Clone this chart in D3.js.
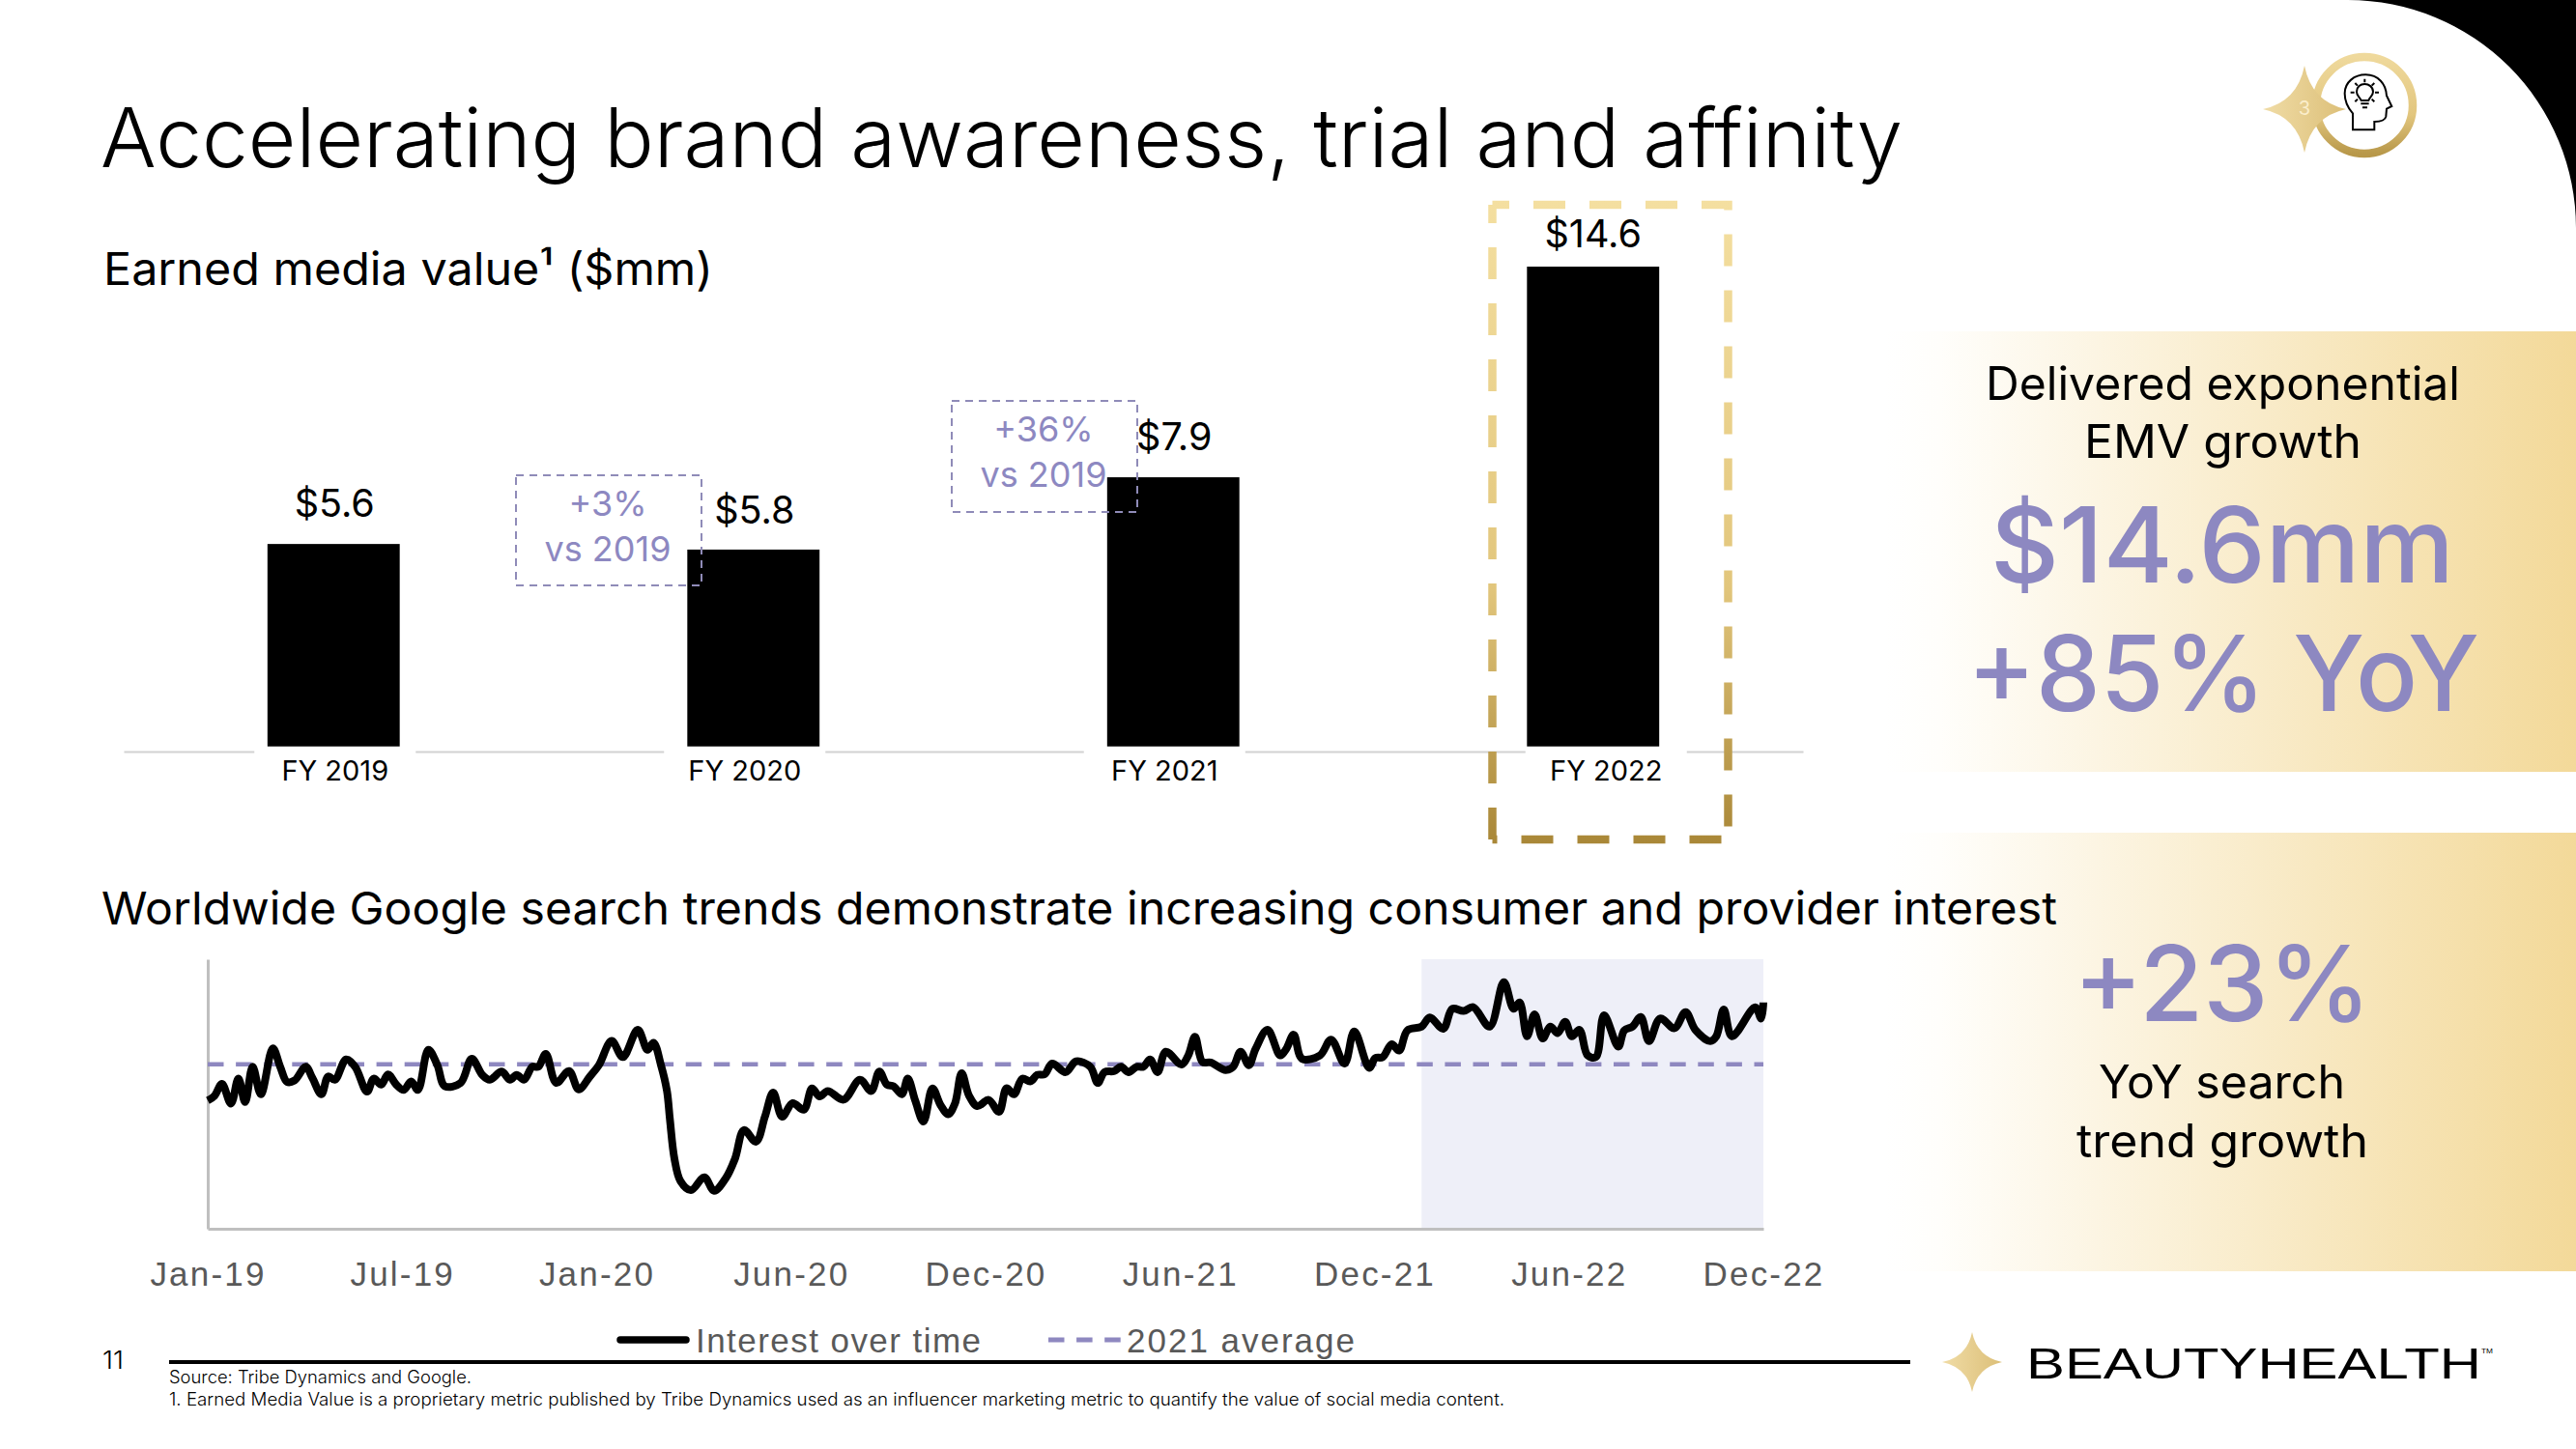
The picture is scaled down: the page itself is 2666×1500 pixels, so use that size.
<!DOCTYPE html>
<html><head><meta charset="utf-8">
<script src="https://cdn.jsdelivr.net/npm/d3@7"></script>
<style>html,body{margin:0;padding:0;background:#fff}svg{display:block}</style>
</head><body>
<svg id="c" width="2666" height="1500"></svg>
<script>
// ---- data ----
const barCategories = ["FY 2019","FY 2020","FY 2021","FY 2022"];
const barValues = [5.6,5.8,7.9,14.6];
const barDrawnHeights = [6.16,5.99,8.19,14.6]; // as drawn in the slide, in units of the FY 2022 scale
const barLabels = ["$5.6","$5.8","$7.9","$14.6"];
const trendTickWeeks = [0,26,52,78,104,130,156,182,208];
const trendTickLabels = ["Jan-19","Jul-19","Jan-20","Jun-20","Dec-20","Jun-21","Dec-21","Jun-22","Dec-22"];
const trendWeeks = [0,0.9,1.9,3.1,4.1,5,6,7.1,8.7,9.7,10.6,11.6,13.1,14,15.2,16.1,17,18.5,19.7,21.3,22.2,23.2,24.1,25.2,26.2,27.2,28.1,29.5,30.7,31.7,33.8,35.3,36.7,37.7,39.3,40.4,41.3,42.3,43.4,44.2,45.2,46.6,48.3,49.6,51.1,52.3,54,55.5,57.5,58.8,59.6,60.6,61.4,61.8,62.4,63.2,64.6,66.4,67.7,69.3,70.5,71.7,73.3,74.5,75.6,76.8,78.2,79.7,80.8,81.8,82.9,85,87.2,88.7,89.8,90.8,91.7,92.8,93.6,94.6,95.7,96.9,98,99,99.9,100.8,101.8,102.9,104.4,105.8,106.8,107.8,108.9,110,110.9,111.9,112.9,114.7,116.1,118,119,119.9,121.2,122.1,123.1,124.2,125.1,126,127,128.1,130.2,131.1,132,133,134.1,136.1,137.1,138.1,139.2,140.1,141.7,143.4,144.2,145.2,146.3,148.7,150.2,152,153.3,155.3,156.1,157.1,158.3,159.3,160.4,162.3,163.4,165.2,166.4,167.9,169.2,171.4,173.3,174.6,175.4,176.4,177.4,178.5,179.5,180.5,181.5,182.4,183.4,184.5,185.6,186.7,188.6,189.4,190.5,191.6,192.7,194.2,196.1,197.6,198.9,200.9,201.7,202.7,203.8,206.9,207.7,208];
const trendValues = [47.6,49.3,53.8,46.4,55.7,47,60.1,49.9,66.9,60,54.5,55,60.1,55.9,49.9,56.5,55.3,62.8,60.1,50.9,55.7,53.5,57.3,53.5,51.5,54.7,51.5,66.4,60.7,52.9,54.1,63.1,57.1,55.3,58.3,55.3,57.1,55.3,60.1,60.1,64.9,54.1,58.5,51.7,56.5,60.7,69.7,63.7,73.8,66.4,69,60.7,51.1,40.4,26,17.7,14.3,19.1,14.1,18.9,26,36.6,32.3,41.6,50.5,41.6,46.6,44.2,52.1,49.1,51.1,47.9,55.3,51.1,58.3,53.5,52.9,49.9,55.7,47.5,39.8,52.1,45.8,42.5,46.4,57.7,49.3,45.5,47.8,43.4,52.1,49.9,55.7,54.7,57.1,57.3,61.3,58.1,62.1,60.1,54.1,58.1,58.5,60.1,58.1,60.1,60.1,62.8,58.1,65.7,60.9,64.3,71.2,61.9,61.7,58.9,60.1,65.7,60.7,66.7,73.8,64.3,66.7,72,63.1,64.3,70.2,61.3,73.2,59.7,63.3,63.7,68.5,66.1,73.6,75,78.4,74.2,81.6,80.8,82.2,75,91.5,81.6,84,71.4,79.6,70.6,75,72.6,76.8,71.4,73.8,64.3,63.7,79.2,67.6,73.6,75,78.6,69.6,78,74.4,80.4,73.8,69.6,71.4,81.4,71.4,82.2,78,84];
const average2021 = 61;
const highlightStartWeek = 162.3;

const svg = d3.select("#c");
const SANS = "Inter, sans-serif", ARIAL = "'Liberation Sans', Arial, sans-serif";
const PURPLE = "#8d88c1";
const defs = svg.append("defs");

function grad(id, dir, stops){
  const g = defs.append("linearGradient").attr("id",id)
    .attr("x1",0).attr("y1",0).attr("x2",dir==="h"?1:0).attr("y2",dir==="h"?0:1);
  if(dir==="u"){g.attr("gradientUnits","userSpaceOnUse").attr("x1",0).attr("y1",208).attr("x2",0).attr("y2",873);}
  stops.forEach(s=>g.append("stop").attr("offset",s[0]).attr("stop-color",s[1]));
}
grad("panel","h",[[0,"#ffffff"],[0.08,"#fffefb"],[1,"#f3d999"]]);
grad("goldV","u",[[0,"#f4dfa0"],[0.6,"#e2c67c"],[1,"#a98737"]]);
grad("ring","v",[[0,"#efd99c"],[0.6,"#e2c67e"],[1,"#b8984a"]]);
grad("star","h",[[0,"#f0dca6"],[1,"#dcbf78"]]);

function fit(t,x0,x1,base,size,color,family,weight){
  return svg.append("text").attr("x",x0).attr("y",base)
    .attr("textLength",x1-x0).attr("lengthAdjust","spacingAndGlyphs")
    .style("font-family",family||SANS).style("font-size",size+"px")
    .style("font-weight",weight||400).attr("fill",color||"#000").text(t);
}
function starPath(cx,cy,rx,ry){
  const kx=rx*.17, ky=ry*.17;
  return `M${cx},${cy-ry}Q${cx+kx},${cy-ky} ${cx+rx},${cy}Q${cx+kx},${cy+ky} ${cx},${cy+ry}Q${cx-kx},${cy+ky} ${cx-rx},${cy}Q${cx-kx},${cy-ky} ${cx},${cy-ry}Z`;
}

// corner
svg.append("path").attr("d","M2430,0 A236,236 0 0 1 2666,236 L2666,0 Z").attr("fill","#000");

// gold panels
svg.append("rect").attr("x",1950).attr("y",343).attr("width",716).attr("height",456).attr("fill","url(#panel)");
svg.append("rect").attr("x",1950).attr("y",862).attr("width",716).attr("height",454).attr("fill","url(#panel)");

// title
fit("Accelerating brand awareness, trial and affinity",104,1969,173,85,"#000",SANS,300);
fit("Earned media value\u00B9 ($mm)",107,738,295,47);
fit("Worldwide Google search trends demonstrate increasing consumer and provider interest",105,2129,957,47);

// ---- bars ----
const x = d3.scaleBand().domain(barCategories).range([128,1866]).paddingInner(.685).paddingOuter(.3425);
const y = d3.scaleLinear().domain([0,14.6]).range([772.7,276]);
const axisY = 778;
const labelShift = [1.5,-9,-9,13.5];
const valueLift = [28,27,28,20];

svg.append("g").attr("transform",`translate(0,${axisY})`)
  .call(d3.axisBottom(x).tickValues([]).tickSize(0).tickSizeOuter(0))
  .select(".domain").attr("stroke","#d2d2d2").attr("stroke-width",2);
svg.append("g").selectAll("rect").data(barCategories).join("rect")
  .attr("x",(d,i)=>x(d)+x.bandwidth()/2+labelShift[i]-83.5).attr("y",axisY-4).attr("width",167).attr("height",8).attr("fill","#fff");

const gx = svg.append("g").attr("transform",`translate(0,${axisY})`)
  .call(d3.axisBottom(x).tickSize(0).tickPadding(0));
gx.select(".domain").remove();
gx.selectAll(".tick text").attr("dx",(d,i)=>labelShift[i]).attr("dy",0).attr("y",30)
  .style("font-family",SANS).style("font-size","29px").attr("fill","#000").attr("text-anchor","middle");

svg.append("g").selectAll("rect").data(barCategories).join("rect")
  .attr("x",d=>x(d)).attr("width",x.bandwidth())
  .attr("y",(d,i)=>y(barDrawnHeights[i])).attr("height",(d,i)=>y(0)-y(barDrawnHeights[i]))
  .attr("fill","#000");

svg.append("g").selectAll("text").data(barLabels).join("text")
  .attr("x",(d,i)=>x(barCategories[i])+x.bandwidth()/2+(i===3?0:1))
  .attr("y",(d,i)=>y(barDrawnHeights[i])-valueLift[i])
  .attr("text-anchor","middle").style("font-family",SANS).style("font-size","39.5px").attr("fill","#000").text(d=>d);

// gold dashed frame: top+right, bottom, left
[["M1544.5,212H1788.5V869",15.5],["M1788.5,869H1544.5",51],["M1544.5,869V212",0]].forEach(p=>{
  svg.append("path").attr("d",p[0]).attr("fill","none").attr("stroke","url(#goldV)").attr("stroke-width",8.5)
    .attr("stroke-dasharray","33 25").attr("stroke-dashoffset",p[1]);
});

// vs-2019 call-outs
const calloutBoxes = [{x:534,y:492,w:192,h:114,a:"+3%",b:"vs 2019"},{x:985,y:415,w:192,h:115,a:"+36%",b:"vs 2019"}];
calloutBoxes.forEach(c=>{
  svg.append("rect").attr("x",c.x).attr("y",c.y).attr("width",c.w).attr("height",c.h)
    .attr("fill","none").attr("stroke","#8f8bb8").attr("stroke-width",2).attr("stroke-dasharray","8 6");
  [[c.a,c.y+42],[c.b,c.y+89]].forEach(l=>svg.append("text").attr("x",c.x+c.w/2-1).attr("y",l[1]).attr("text-anchor","middle")
    .style("font-family",SANS).style("font-size","36px").attr("fill",PURPLE).text(l[0]));
});

// ---- trend chart ----
const tx = d3.scaleLinear().domain([0,208]).range([215,1825]);
const ty = d3.scaleLinear().domain([0,100]).range([1272,993]);

svg.append("rect").attr("x",tx(highlightStartWeek)).attr("y",ty(100))
  .attr("width",tx(208)-tx(highlightStartWeek)).attr("height",ty(0)-ty(100)).attr("fill","#eeeff8");

const axB = svg.append("g").attr("transform",`translate(0,${ty(0)})`)
  .call(d3.axisBottom(tx).tickValues(trendTickWeeks).tickFormat((d,i)=>trendTickLabels[i]).tickSize(0).tickPadding(0));
axB.select(".domain").attr("stroke","#bfbfbf").attr("stroke-width",3);
axB.selectAll(".tick text").attr("y",59).attr("dy",0)
  .style("font-family",ARIAL).style("font-size","35px").style("letter-spacing","2.2px").attr("fill","#595959");
const axL = svg.append("g").attr("transform",`translate(${tx(0)},0)`)
  .call(d3.axisLeft(ty).tickValues([]).tickSize(0).tickSizeOuter(0));
axL.select(".domain").attr("stroke","#bfbfbf").attr("stroke-width",3);

svg.append("line").attr("x1",tx(0)).attr("x2",tx(208)).attr("y1",ty(average2021)).attr("y2",ty(average2021))
  .attr("stroke","#8e88c0").attr("stroke-width",4.5).attr("stroke-dasharray","16.5 12.6");

const line = d3.line().x(d=>tx(d[0])).y(d=>ty(d[1])).curve(d3.curveCatmullRom.alpha(.5));
svg.append("path").datum(trendWeeks.map((w,i)=>[w,trendValues[i]]))
  .attr("d",line).attr("fill","none").attr("stroke","#000").attr("stroke-width",8).attr("stroke-linejoin","round");

// legend
svg.append("line").attr("x1",642).attr("x2",710).attr("y1",1387).attr("y2",1387).attr("stroke","#000").attr("stroke-width",7.5).attr("stroke-linecap","round");
svg.append("text").attr("x",720).attr("y",1400).attr("textLength",295).attr("lengthAdjust","spacing")
  .style("font-family",ARIAL).style("font-size","35px").attr("fill","#595959").text("Interest over time");
svg.append("line").attr("x1",1085).attr("x2",1162).attr("y1",1387).attr("y2",1387).attr("stroke","#8e88c0").attr("stroke-width",5).attr("stroke-dasharray","16.5 12.6");
svg.append("text").attr("x",1166).attr("y",1400).attr("textLength",236).attr("lengthAdjust","spacing")
  .style("font-family",ARIAL).style("font-size","35px").attr("fill","#595959").text("2021 average");

// right panel text
fit("Delivered exponential",2055,2546,414,48);
fit("EMV growth",2157,2444,474,48);
fit("$14.6mm",2060,2540,603,108,PURPLE,SANS,500);
fit("+85% YoY",2036,2566,736,108,PURPLE,SANS,500);
fit("+23%",2146,2454,1057,108,PURPLE,SANS,500);
fit("YoY search",2172,2427,1137,48);
fit("trend growth",2149,2451,1198,48);

// footer
svg.append("rect").attr("x",175).attr("y",1408).attr("width",1802).attr("height",4).attr("fill","#000");
fit("11",106,128,1417,25,"#000",SANS,300);
fit("Source: Tribe Dynamics and Google.",175,488,1432,18,"#000",SANS,300);
fit("1.  Earned Media Value is a proprietary metric published by Tribe Dynamics used as an influencer marketing metric to quantify the value of social media content.",175,1557,1455,18,"#000",SANS,300);

// logo
svg.append("path").attr("d",starPath(2041,1410,31,31)).attr("fill","url(#star)");
fit("BEAUTYHEALTH",2097,2568,1427,44,"#000",ARIAL);
fit("TM",2568,2580,1401,8,"#000",ARIAL);

// badge
svg.append("circle").attr("cx",2447).attr("cy",109).attr("r",50).attr("fill","#fff").attr("stroke","url(#ring)").attr("stroke-width",8.5);
svg.append("path").attr("d",starPath(2385,113,43,45)).attr("fill","url(#star)");
svg.append("text").attr("x",2385).attr("y",119).attr("text-anchor","middle").style("font-family",SANS).style("font-size","20px").attr("fill","#fbeecb").text("3");
const icon = svg.append("g").attr("transform","translate(2240,0) scale(.3333)").attr("fill","none").attr("stroke","#000").attr("stroke-width",6);
icon.append("path").attr("d","M585,403 L585,352 C570,335 560,312 560,290 C560,255 590,232 625,232 C665,232 688,262 690,297 L706,330 L690,338 L688,362 C686,372 675,378 652,378 L652,403 Z");
icon.append("path").attr("d","M611,312 C606,300 597,298 597,285 C597,270 609,261 622,261 C635,261 648,270 648,285 C648,298 638,300 634,312 Z");
icon.append("path").attr("d","M610,322H635M615,334H630M622,245V256M592,258L600,266M652,258L644,266M578,287H590M654,287H666M592,316L600,308M652,316L644,308");
</script>
</body></html>
